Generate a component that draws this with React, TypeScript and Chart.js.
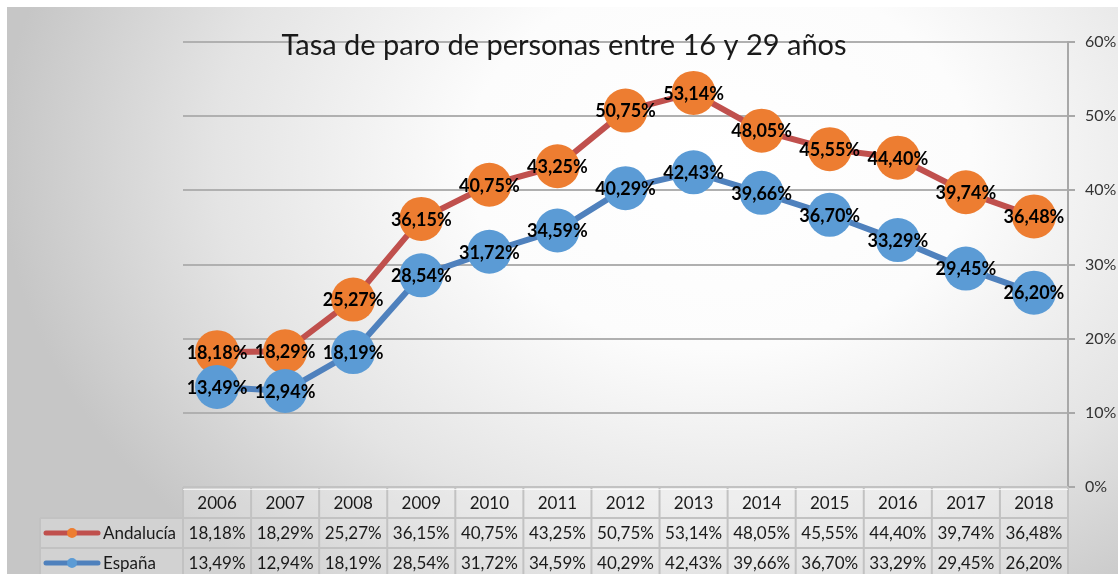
import React, { useEffect, useRef } from "react";
import { Chart, registerables } from "chart.js";

Chart.register(...registerables);

const years = ["2006", "2007", "2008", "2009", "2010", "2011", "2012", "2013", "2014", "2015", "2016", "2017", "2018"];
const andalucia = [18.18, 18.29, 25.27, 36.15, 40.75, 43.25, 50.75, 53.14, 48.05, 45.55, 44.4, 39.74, 36.48];
const espana = [13.49, 12.94, 18.19, 28.54, 31.72, 34.59, 40.29, 42.43, 39.66, 36.7, 33.29, 29.45, 26.2];
const seriesNames = ["Andalucía", "España"];
const titleText = "Tasa de paro de personas entre 16 y 29 años";

const FONT = "Lato, 'Noto Sans', sans-serif";
const W = 1118;
const H = 574;

const fmt = (v: number) => v.toFixed(2).replace(".", ",") + "%";

const bgPlugin = {
  id: "bg",
  beforeDraw(chart: any) {
    const ctx = chart.ctx;
    ctx.save();
    ctx.fillStyle = "#ffffff";
    ctx.fillRect(0, 0, W, H);
    const cx = 720, cy = 160, rx = 720, ry = 540;
    ctx.translate(cx, cy);
    ctx.scale(rx / ry, 1);
    const g = ctx.createRadialGradient(0, 0, 0, 0, 0, ry);
    g.addColorStop(0, "#ffffff");
    g.addColorStop(0.35, "#fcfcfc");
    g.addColorStop(0.7, "#e4e4e4");
    g.addColorStop(0.9, "#d0d0d0");
    g.addColorStop(1, "#c6c6c6");
    ctx.fillStyle = g;
    ctx.fillRect((7 - cx) * ry / rx, 7 - cy, (W - 7) * ry / rx, H - 7);
    ctx.restore();
  },
};

const overlayPlugin = {
  id: "overlay",
  afterDatasetsDraw(chart: any) {
    const ctx = chart.ctx;
    ctx.save();
    ctx.font = `bold 18px ${FONT}`;
    ctx.fillStyle = "#000000";
    ctx.textAlign = "center";
    ctx.textBaseline = "middle";
    chart.data.datasets.forEach((ds: any, di: number) => {
      const meta = chart.getDatasetMeta(di);
      meta.data.forEach((pt: any, i: number) => {
        ctx.fillText(fmt(ds.data[i]), pt.x, pt.y + 1);
      });
    });
    ctx.restore();
  },
  afterDraw(chart: any) {
    const ctx = chart.ctx;
    const area = chart.chartArea;
    const xs = chart.scales.x;
    const n = years.length;
    const cw = (area.right - area.left) / n;
    const top = area.bottom;
    const rowH = [31, 30, 30];
    const rowsY = [top, top + rowH[0], top + rowH[0] + rowH[1], top + rowH[0] + rowH[1] + rowH[2]];
    const legendLeft = 40;
    ctx.save();
    // title
    ctx.font = `29px ${FONT}`;
    ctx.fillStyle = "#1a1a1a";
    ctx.textAlign = "center";
    ctx.textBaseline = "alphabetic";
    ctx.fillText(titleText, 564, 55);

    // cell fills
    ctx.fillStyle = "rgba(255,255,255,0.22)";
    ctx.fillRect(area.left, rowsY[0], area.right - area.left, rowsY[3] - rowsY[0]);
    ctx.fillRect(legendLeft, rowsY[1], area.left - legendLeft, rowsY[3] - rowsY[1]);

    // borders
    ctx.strokeStyle = "#c2c2c2";
    ctx.lineWidth = 2;
    ctx.beginPath();
    for (let r = 0; r < 4; r++) {
      const y = rowsY[r];
      const x0 = r === 0 ? area.left : legendLeft;
      ctx.moveTo(x0, y);
      ctx.lineTo(area.right, y);
    }
    for (let c = 0; c <= n; c++) {
      const x = area.left + c * cw;
      ctx.moveTo(x, rowsY[0]);
      ctx.lineTo(x, rowsY[3]);
    }
    ctx.moveTo(legendLeft, rowsY[1]);
    ctx.lineTo(legendLeft, rowsY[3]);
    ctx.stroke();
    ctx.strokeStyle = "rgba(255,255,255,0.7)";
    ctx.lineWidth = 1;
    ctx.beginPath();
    ctx.moveTo(area.left, rowsY[0] + 2.5);
    ctx.lineTo(area.right, rowsY[0] + 2.5);
    ctx.stroke();

    // header & values
    ctx.font = `17px ${FONT}`;
    ctx.fillStyle = "#1a1a1a";
    ctx.textAlign = "center";
    ctx.textBaseline = "middle";
    const rowsData = [andalucia, espana];
    years.forEach((yr, i) => {
      const x = xs.getPixelForValue(i);
      ctx.fillText(yr, x, (rowsY[0] + rowsY[1]) / 2 + 1);
      rowsData.forEach((arr, r) => {
        ctx.fillText(fmt(arr[i]), x, (rowsY[r + 1] + rowsY[r + 2]) / 2 + 1);
      });
    });

    // legend keys
    chart.data.datasets.forEach((ds: any, r: number) => {
      const y = (rowsY[r + 1] + rowsY[r + 2]) / 2;
      ctx.strokeStyle = ds.borderColor;
      ctx.lineWidth = 5;
      ctx.lineCap = "round";
      ctx.beginPath();
      ctx.moveTo(46, y);
      ctx.lineTo(98, y);
      ctx.stroke();
      ctx.fillStyle = ds.pointBackgroundColor;
      ctx.beginPath();
      ctx.arc(72, y, 5, 0, Math.PI * 2);
      ctx.fill();
      ctx.fillStyle = "#1a1a1a";
      ctx.textAlign = "left";
      ctx.fillText(seriesNames[r], 103, y + 1);
    });
    ctx.restore();
  },
};

export default function App() {
  const ref = useRef<HTMLCanvasElement | null>(null);
  useEffect(() => {
    if (!ref.current) return;
    const chart = new Chart(ref.current, {
      type: "line",
      data: {
        labels: years,
        datasets: [
          {
            label: seriesNames[0],
            data: andalucia,
            borderColor: "#C0504D",
            backgroundColor: "#ED7D31",
            pointBackgroundColor: "#ED7D31",
            pointBorderColor: "#ED7D31",
            pointRadius: 22,
            pointBorderWidth: 0,
            borderWidth: 6,
            tension: 0,
            order: 1,
          },
          {
            label: seriesNames[1],
            data: espana,
            borderColor: "#4F81BD",
            backgroundColor: "#5B9BD5",
            pointBackgroundColor: "#5B9BD5",
            pointBorderColor: "#5B9BD5",
            pointRadius: 22,
            pointBorderWidth: 0,
            borderWidth: 6,
            tension: 0,
            order: 0,
          },
        ],
      },
      options: {
        responsive: false,
        animation: false,
        events: [],
        layout: { padding: { left: 183, top: 42, bottom: 87, right: 0 } },
        plugins: { legend: { display: false }, tooltip: { enabled: false }, title: { display: false } },
        scales: {
          x: { type: "category", display: false, offset: true },
          y: {
            position: "right",
            min: 0,
            max: 60,
            afterFit: (s: any) => { s.width = 50; },
            border: { display: true, color: "#a8a8a8", width: 2 },
            grid: { color: "#b0b0b0", lineWidth: 2, drawTicks: true, tickLength: 7, tickColor: "#a8a8a8" },
            ticks: {
              stepSize: 10,
              padding: 10,
              color: "#333333",
              font: { family: FONT, size: 16 },
              callback: (v: any) => v + "%",
            },
          },
        },
      },
      plugins: [bgPlugin, overlayPlugin],
    });
    return () => chart.destroy();
  }, []);
  return (
    <div style={{ position: "absolute", left: 0, top: 0, width: W, height: H }}>
      <canvas ref={ref} width={W} height={H} style={{ display: "block" }} />
    </div>
  );
}
